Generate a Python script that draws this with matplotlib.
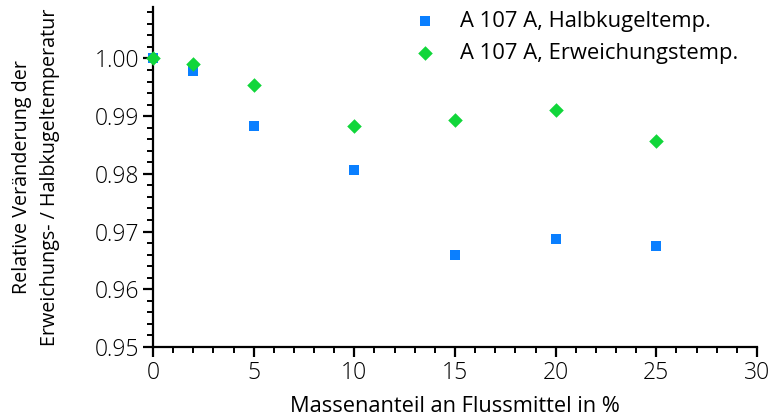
import matplotlib
matplotlib.use("Agg")
import matplotlib.pyplot as plt
from matplotlib.ticker import MultipleLocator, FormatStrFormatter

x_values = [0, 2, 5, 10, 15, 20, 25]
halbkugel = [1.0000, 0.9979, 0.9883, 0.9806, 0.9659, 0.9687, 0.9675]
erweichung = [1.0000, 0.9991, 0.9954, 0.9883, 0.9893, 0.9910, 0.9857]
labels = ["A 107 A, Halbkugeltemp.", "A 107 A, Erweichungstemp."]
xlabel = "Massenanteil an Flussmittel in %"
ylabel = "Relative Veränderung der\nErweichungs- / Halbkugeltemperatur"

plt.rcParams['font.family'] = ['Open Sans', 'DejaVu Sans']

fig = plt.figure(figsize=(7.78, 4.17), dpi=100)
ax = fig.add_axes([0.1967, 0.168, 0.7763, 0.815])

ax.scatter(x_values, halbkugel, marker='s', s=45, color='#0A7FFF', linewidths=0,
           label=labels[0], zorder=3, clip_on=False)
ax.scatter(x_values, erweichung, marker='D', s=55, color='#11D63A', linewidths=0,
           label=labels[1], zorder=3, clip_on=False)

ax.set_xlim(0, 30)
ax.set_ylim(0.95, 1.0089)
ax.xaxis.set_major_locator(MultipleLocator(5))
ax.xaxis.set_minor_locator(MultipleLocator(1))
ax.yaxis.set_major_locator(MultipleLocator(0.01))
ax.yaxis.set_minor_locator(MultipleLocator(0.002))
ax.yaxis.set_major_formatter(FormatStrFormatter('%.2f'))

for s in ['top', 'right']:
    ax.spines[s].set_visible(False)
for s in ['left', 'bottom']:
    ax.spines[s].set_linewidth(1.6)

ax.tick_params(which='major', direction='out', length=7, width=1.6, labelsize=16.5, pad=3)
ax.tick_params(which='minor', direction='out', length=4, width=1.4)
for lbl in ax.get_xticklabels() + ax.get_yticklabels():
    lbl.set_fontweight('light')

ax.set_xlabel(xlabel, fontsize=15.7, labelpad=8)
ax.set_ylabel(ylabel, fontsize=14.2, labelpad=25, linespacing=1.55)

leg = ax.legend(loc='upper left', bbox_to_anchor=(0.432, 0.988), frameon=False,
                fontsize=15.8, handlelength=1.0, handletextpad=1.1, labelspacing=0.5,
                borderpad=0, borderaxespad=0, markerscale=1.0)

fig.savefig("out.png", dpi=100)
